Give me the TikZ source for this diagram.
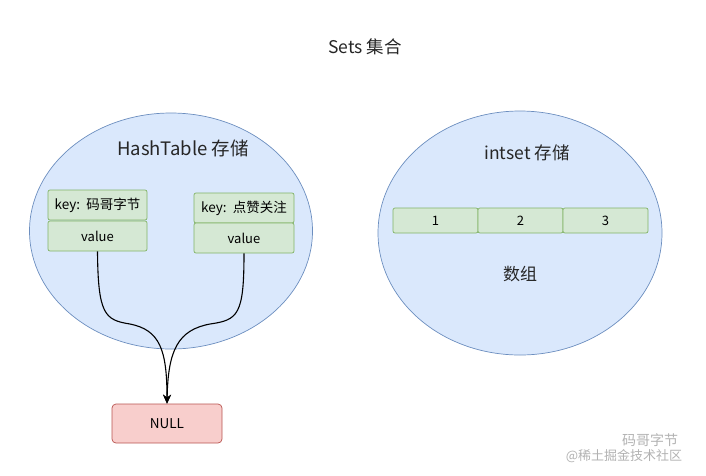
\documentclass[tikz,border=0pt]{standalone}
\usepackage{fontspec}
\setmainfont{Noto Sans CJK SC}
\usetikzlibrary{arrows.meta,shapes.geometric}
\definecolor{bluefill}{HTML}{DAE8FC}
\definecolor{bluedraw}{HTML}{6C8EBF}
\definecolor{greenfill}{HTML}{D5E8D4}
\definecolor{greendraw}{HTML}{82B366}
\definecolor{redfill}{HTML}{F8CECC}
\definecolor{reddraw}{HTML}{B85450}
\tikzset{
  region/.style={ellipse,draw=bluedraw,fill=bluefill,line width=0.7pt,inner sep=0pt},
  cell/.style={draw=greendraw,fill=greenfill,rounded corners=2pt,line width=0.7pt,inner sep=0pt,font=\fontsize{13}{15}\selectfont},
  nullbox/.style={draw=reddraw,fill=redfill,rounded corners=4pt,line width=0.7pt,inner sep=0pt,font=\fontsize{13.5}{15}\selectfont},
  link/.style={draw=black,line width=1.1pt,-{Stealth[length=9pt,width=8pt]}},
  label/.style={inner sep=0pt,text=black!85}
}
\begin{document}
\begin{tikzpicture}[x=1pt,y=-1pt]
\useasboundingbox (0,0) rectangle (706,475);
\node[label,font=\fontsize{17.5}{20}\selectfont] (title) at (365,47) {Sets 集合};
\node[region,minimum width=283,minimum height=236] (left) at (171,231) {};
\node[region,minimum width=284,minimum height=244] (right) at (520,233) {};
\node[label,font=\fontsize{18.5}{21}\selectfont] (htl) at (183,148) {HashTable 存储};
\node[cell,minimum width=99,minimum height=30,font=\fontsize{13.5}{15}\selectfont] (k1) at (97.5,205) {key:\ \ 码哥字节};
\node[cell,minimum width=99,minimum height=30] (v1) at (97.5,236) {value};
\node[cell,minimum width=100,minimum height=30,font=\fontsize{13.5}{15}\selectfont] (k2) at (244,208) {key:\ \ 点赞关注};
\node[cell,minimum width=100,minimum height=30] (v2) at (244,238) {value};
\node[nullbox,minimum width=110,minimum height=39] (null) at (167,423.5) {NULL};
\draw[link] (v1.south) .. controls (98,315) and (105,320) .. (130,324) .. controls (160,330) and (167,350) .. (null.north);
\draw[link] (v2.south) .. controls (244,315) and (238,320) .. (210,324) .. controls (178,330) and (168,350) .. (null.north);
\node[label,font=\fontsize{17.5}{20}\selectfont] (isl) at (527,153) {intset 存储};
\node[cell,minimum width=85,minimum height=25] (a1) at (435.5,220.5) {1};
\node[cell,minimum width=85,minimum height=25] (a2) at (520.5,220.5) {2};
\node[cell,minimum width=85,minimum height=25] (a3) at (605.5,220.5) {3};
\node[label,font=\fontsize{17}{20}\selectfont] (arr) at (520,274) {数组};
\node[label,text=black!30,font=\fontsize{14}{16}\selectfont] (wm1) at (650,440) {码哥字节};
\node[label,text=black!30,font=\fontsize{13}{15}\selectfont] (wm2) at (624,456) {@稀土掘金技术社区};
\end{tikzpicture}
\end{document}
